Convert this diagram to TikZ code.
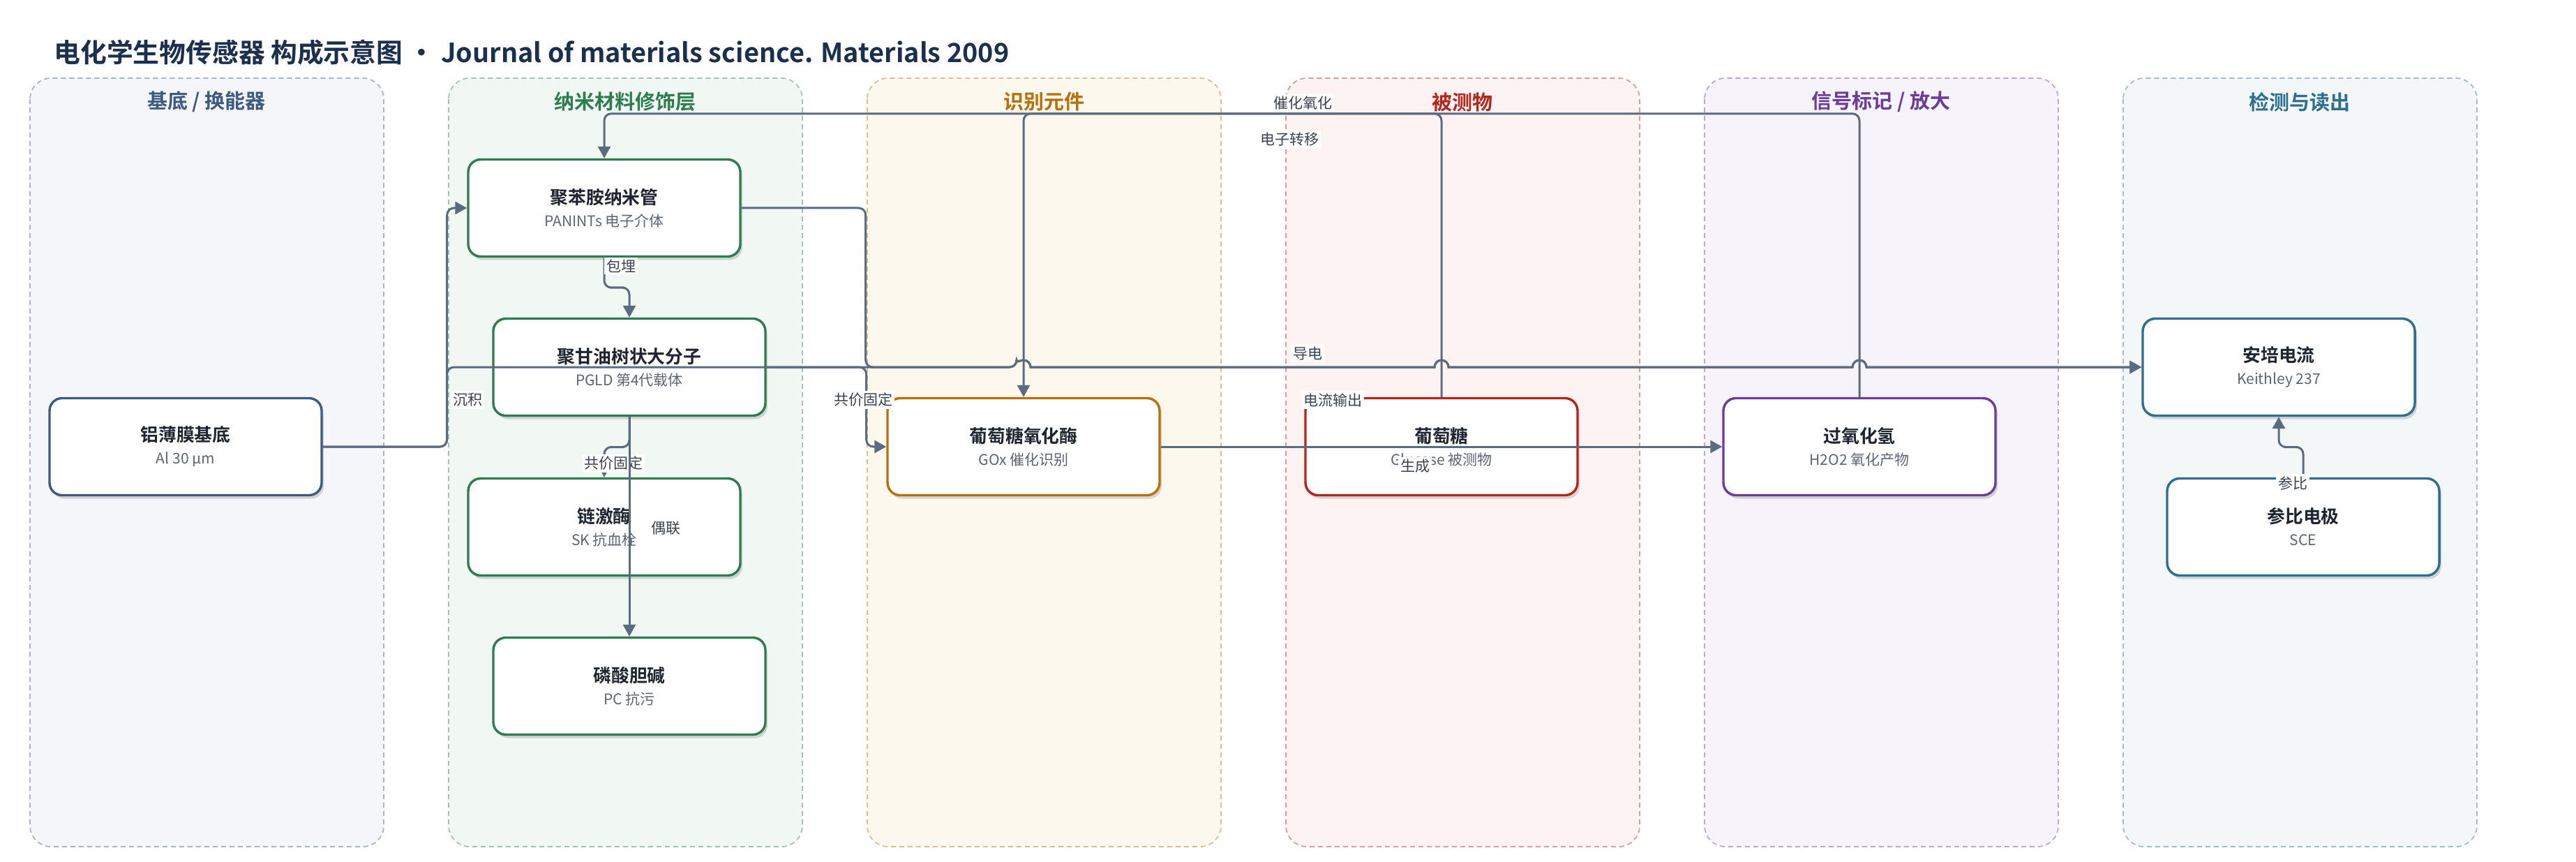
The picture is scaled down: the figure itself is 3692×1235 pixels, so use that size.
\documentclass[tikz,border=0pt]{standalone}
\usepackage{fontspec}
\setmainfont{Noto Sans CJK SC}[BoldFont={Noto Sans CJK SC Bold}]
\usetikzlibrary{arrows.meta,calc,shadows}

\definecolor{titleink}{HTML}{1B2F4E}
\definecolor{textink}{HTML}{1E2530}
\definecolor{subink}{HTML}{5B6576}
\definecolor{wire}{HTML}{5B6B80}
\definecolor{tagink}{HTML}{3A4250}
% lane colours
\definecolor{inkA}{HTML}{3D5A80}
\definecolor{inkB}{HTML}{2E7D4F}
\definecolor{inkC}{HTML}{B8700A}
\definecolor{inkD}{HTML}{B3261E}
\definecolor{inkE}{HTML}{6A3D9A}
\definecolor{inkF}{HTML}{2E6E8E}
\definecolor{bgA}{HTML}{F4F6FA}
\definecolor{bgB}{HTML}{F1F8F3}
\definecolor{bgC}{HTML}{FDF8EE}
\definecolor{bgD}{HTML}{FDF3F2}
\definecolor{bgE}{HTML}{F6F3FB}
\definecolor{bgF}{HTML}{F3F7F8}

\newcommand{\boxtitle}[1]{{\bfseries\color{textink}#1}}
\newcommand{\boxsub}[1]{{\fontsize{10.5}{16}\selectfont\color{subink}#1}}

\tikzset{
  lane/.style={rounded corners=15pt, dash pattern=on 3.5pt off 2.5pt, line width=0.9pt},
  head/.style={font=\fontsize{14.5}{17}\selectfont\bfseries},
  part/.style={rectangle, rounded corners=9pt, draw=#1, line width=1.7pt, fill=white,
    minimum width=195pt, minimum height=69.5pt, align=center, inner sep=2pt,
    font=\fontsize{12.9}{16}\selectfont,
    drop shadow={shadow xshift=1.5pt, shadow yshift=-2.5pt, fill=black, opacity=.14}},
  flow/.style={draw=wire, line width=1.5pt, rounded corners=5pt,
    -{Triangle[length=8.5pt,width=9pt]}},
  tag/.style={fill=white, inner sep=1.5pt, text=tagink, font=\fontsize{10.5}{12}\selectfont}
}

\begin{document}
\begin{tikzpicture}[x=0.5pt,y=-0.5pt]
  \path[use as bounding box, fill=white] (0,0) rectangle (3692,1235);

  \node[anchor=west, inner sep=0, text=titleink, font=\fontsize{18.9}{22}\selectfont\bfseries]
    (title) at (77,75) {电化学生物传感器 构成示意图 · Journal of materials science. Materials 2009};

  % lanes
  \draw[lane, draw=inkA!45, fill=bgA] (43,112) rectangle (550,1213);
  \draw[lane, draw=inkB!45, fill=bgB] (643,112) rectangle (1150,1213);
  \draw[lane, draw=inkC!45, fill=bgC] (1243,112) rectangle (1750,1213);
  \draw[lane, draw=inkD!45, fill=bgD] (1843,112) rectangle (2350,1213);
  \draw[lane, draw=inkE!45, fill=bgE] (2443,112) rectangle (2950,1213);
  \draw[lane, draw=inkF!45, fill=bgF] (3043,112) rectangle (3550,1213);
  \node[head, text=inkA] (headA) at (296,146) {基底 / 换能器};
  \node[head, text=inkB] (headB) at (896,146) {纳米材料修饰层};
  \node[head, text=inkC] (headC) at (1496,146) {识别元件};
  \node[head, text=inkD] (headD) at (2096,146) {被测物};
  \node[head, text=inkE] (headE) at (2696,146) {信号标记 / 放大};
  \node[head, text=inkF] (headF) at (3296,146) {检测与读出};

  % parts
  \node[part=inkA] (al) at (266,640) {\boxtitle{铝薄膜基底}\\\boxsub{Al 30 µm}};
  \node[part=inkB] (pani) at (866,298) {\boxtitle{聚苯胺纳米管}\\\boxsub{PANINTs 电子介体}};
  \node[part=inkB] (pgld) at (902,526) {\boxtitle{聚甘油树状大分子}\\\boxsub{PGLD 第4代载体}};
  \node[part=inkB] (sk) at (866,755) {\boxtitle{链激酶}\\\boxsub{SK 抗血栓}};
  \node[part=inkB] (pc) at (902,983) {\boxtitle{磷酸胆碱}\\\boxsub{PC 抗污}};
  \node[part=inkC] (gox) at (1467,640) {\boxtitle{葡萄糖氧化酶}\\\boxsub{GOx 催化识别}};
  \node[part=inkD] (glu) at (2066,640) {\boxtitle{葡萄糖}\\\boxsub{Glucose 被测物}};
  \node[part=inkE] (hpo) at (2665,640) {\boxtitle{过氧化氢}\\\boxsub{H2O2 氧化产物}};
  \node[part=inkF] (amp) at (3266,526) {\boxtitle{安培电流}\\\boxsub{Keithley 237}};
  \node[part=inkF] (sce) at (3301,755) {\boxtitle{参比电极}\\\boxsub{SCE}};

  % crossings on the readout line
  \coordinate (hopA) at (gox.north |- amp.west);
  \coordinate (hopB) at (glu.north |- amp.west);
  \coordinate (hopC) at (hpo.north |- amp.west);

  % connectors
  \draw[flow] (al.east) -- ++(178,0) |- (pani.west);
  \node[tag] (tagDep) at (670,573) {沉积};
  \draw[flow] (al.east) -- ++(178,0) |- ([xshift=-5pt]hopA) [sharp corners]
    arc[start angle=180, end angle=0, radius=5pt] -- ([xshift=-5pt]hopB)
    arc[start angle=180, end angle=0, radius=5pt] -- ([xshift=-5pt]hopC)
    arc[start angle=180, end angle=0, radius=5pt] -- (amp.west);
  \node[tag] (tagCond) at (1874,506) {导电};
  \draw[flow] (pani.south) |- ($(pani.south)!.5!(pgld.north)$) -| (pgld.north);
  \node[tag] (tagEmb) at (890,381) {包埋};
  \draw[flow] (pgld.south) |- ($(pgld.south)!.5!(sk.north)$) -| (sk.north);
  \node[tag] (tagFixA) at (879,664) {共价固定};
  \draw[flow] (pgld.south) -- (pc.north);
  \node[tag] (tagCpl) at (954,757) {偶联};
  \draw[flow] (pgld.east) -- ++(143,0) |- (gox.west);
  \node[tag] (tagFixB) at (1237,573) {共价固定};
  \draw[flow] (pani.east) -- ++(178,0) |- ([xshift=-5pt]hopA) [sharp corners]
    arc[start angle=180, end angle=0, radius=5pt] -- ([xshift=-5pt]hopB)
    arc[start angle=180, end angle=0, radius=5pt] -- ([xshift=-5pt]hopC)
    arc[start angle=180, end angle=0, radius=5pt] -- (amp.west);
  \node[tag] (tagOut) at (1910,573) {电流输出};
  \draw[flow] (glu.north) -- ++(0,-406) -| (gox.north);
  \node[tag] (tagCat) at (1867,148) {催化氧化};
  \draw[flow] (hpo.north) -- ++(0,-406) -| (pani.north);
  \node[tag] (tagEl) at (1848,200) {电子转移};
  \draw[flow] (gox.east) -- (hpo.west);
  \node[tag] (tagGen) at (2028,668) {生成};
  \draw[flow] (sce.north) |- ($(sce.north)!.5!(amp.south)$) -| (amp.south);
  \node[tag] (tagRef) at (3286,692) {参比};
\end{tikzpicture}
\end{document}
